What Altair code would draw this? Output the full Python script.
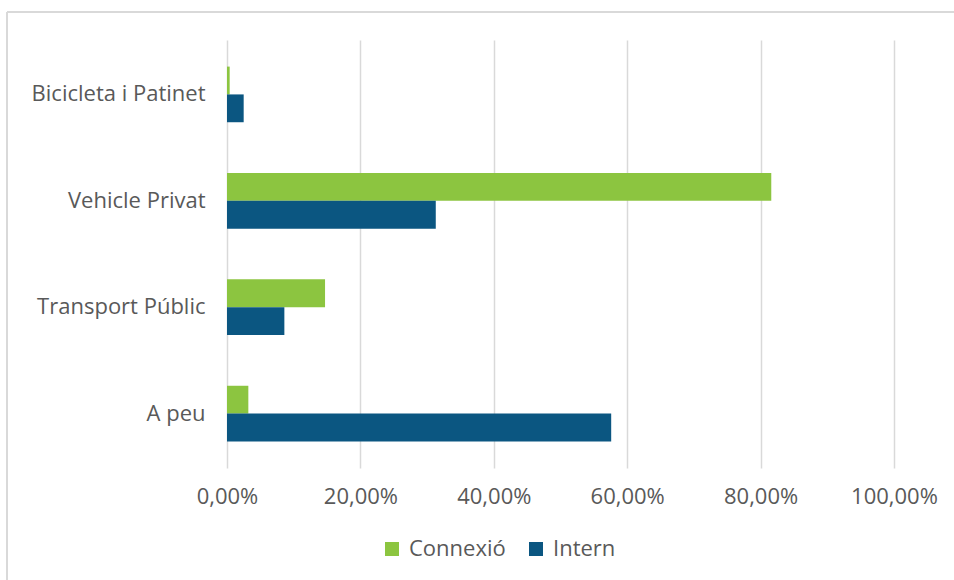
import altair as alt
import pandas as pd

categories = ["Bicicleta i Patinet", "Vehicle Privat", "Transport Públic", "A peu"]
series = ["Connexió", "Intern"]
connexio = [0.004, 0.816, 0.147, 0.032]
intern = [0.025, 0.313, 0.086, 0.576]
colors = ["#8CC540", "#0B5681"]
x_ticks = [0, 0.2, 0.4, 0.6, 0.8, 1.0]

rows = []
for c, a, b in zip(categories, connexio, intern):
    rows.append({"cat": c, "serie": series[0], "val": a})
    rows.append({"cat": c, "serie": series[1], "val": b})
df = pd.DataFrame(rows)

FONT = "Open Sans"
FS = 22
W, H = 667, 428

bars = alt.Chart(df).mark_bar().encode(
    y=alt.Y("cat:N", sort=categories, title=None,
            scale=alt.Scale(paddingInner=0.477, paddingOuter=0.25),
            axis=alt.Axis(ticks=False, domain=False, labelPadding=22,
                          labelFont=FONT, labelFontSize=FS, labelColor="#595959")),
    yOffset=alt.YOffset("serie:N", sort=series, scale=alt.Scale(paddingInner=0, paddingOuter=0)),
    x=alt.X("val:Q", title=None,
            scale=alt.Scale(domain=[0, 1], nice=False),
            axis=alt.Axis(values=x_ticks, ticks=False, domain=False, grid=True,
                          gridColor="#D9D9D9", gridWidth=1.5, labelFlush=False,
                          labelExpr="replace(format(datum.value, '.2%'), '.', ',')",
                          labelPadding=18, labelFont=FONT, labelFontSize=FS,
                          labelColor="#595959")),
    color=alt.Color("serie:N", sort=series, title=None,
                    scale=alt.Scale(domain=series, range=colors),
                    legend=alt.Legend(orient="none", legendX=154, legendY=H + 70,
                                      direction="horizontal", symbolType="square",
                                      symbolSize=196, symbolStrokeWidth=0,
                                      labelFont=FONT, labelFontSize=FS,
                                      labelColor="#595959", columnPadding=19,
                                      labelOffset=6)),
)

border_top = alt.Chart(df).mark_rule(color="#D9D9D9", strokeWidth=1.5).encode(
    x=alt.value(-220), x2=alt.value(W + 100), y=alt.value(-28))
border_left = alt.Chart(df).mark_rule(color="#D9D9D9", strokeWidth=1.5).encode(
    x=alt.value(-220), y=alt.value(-28), y2=alt.value(H + 150))

chart = alt.layer(border_top, border_left, bars).properties(
    width=W, height=H,
    padding={"left": 227, "top": 40, "right": 60, "bottom": 112},
    autosize=alt.AutoSizeParams(type="none"),
).configure_view(stroke=None)

chart.save("out.html", embed_options={"renderer": "svg", "actions": False})
